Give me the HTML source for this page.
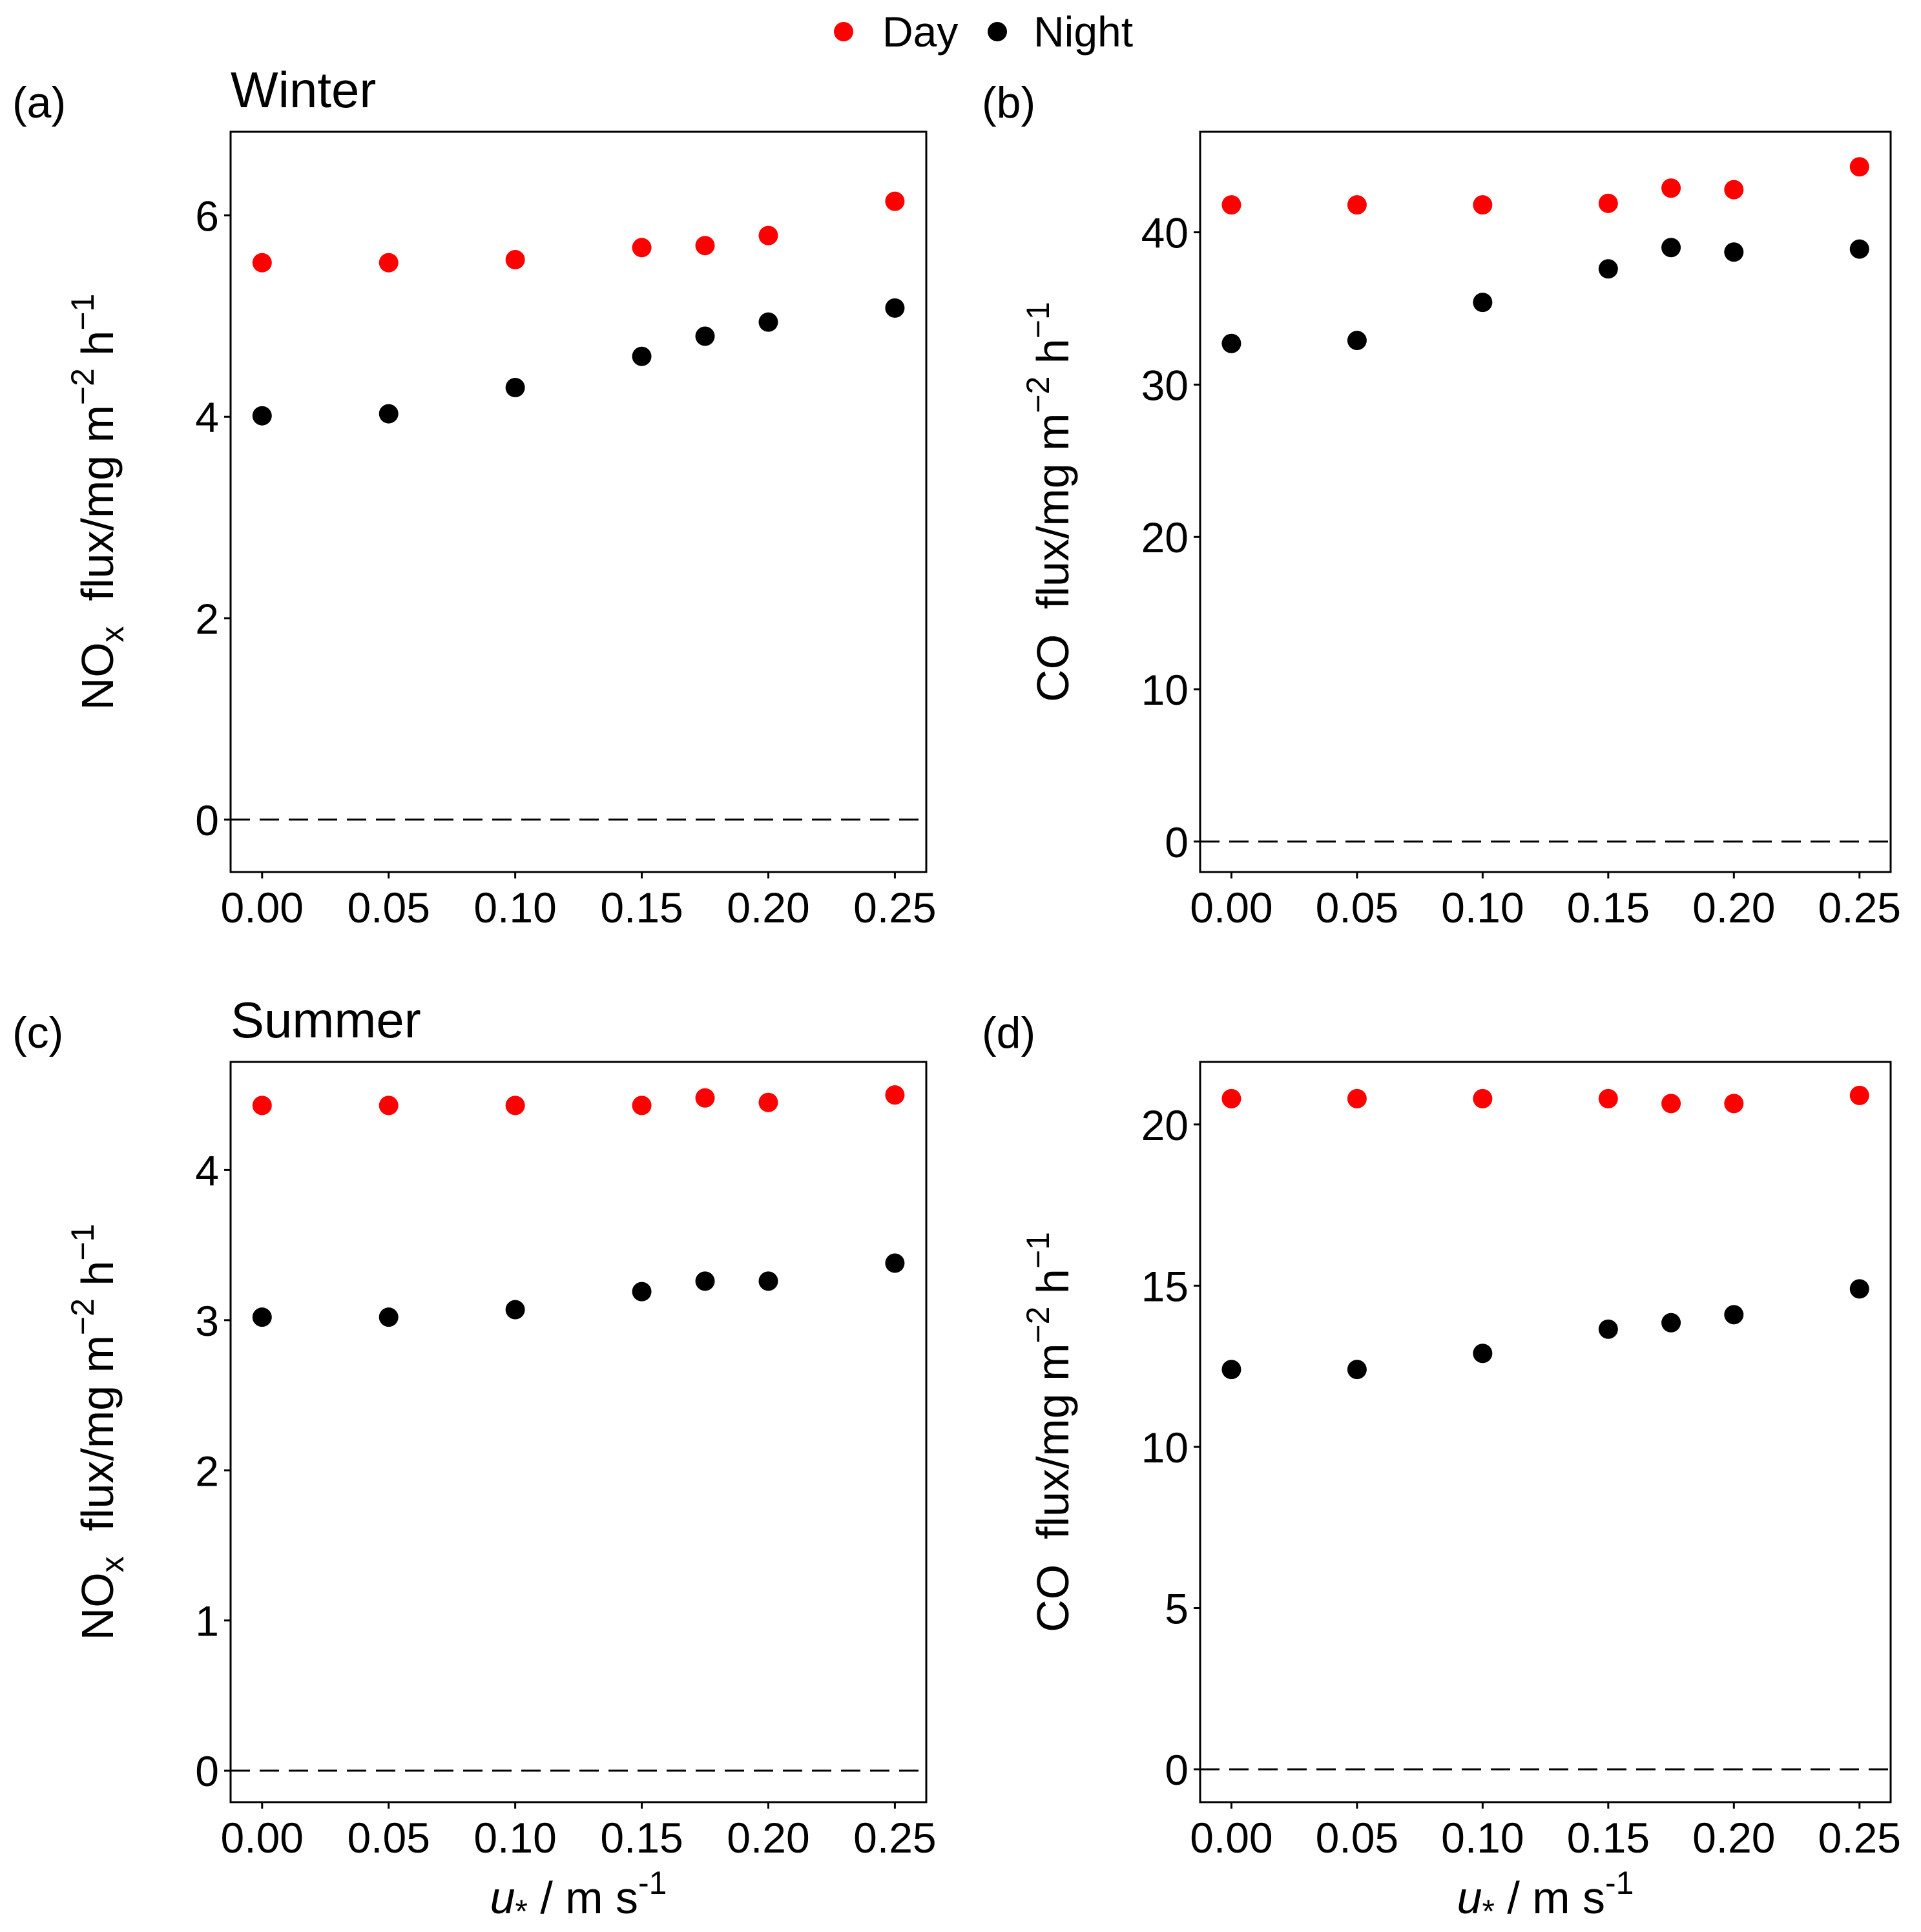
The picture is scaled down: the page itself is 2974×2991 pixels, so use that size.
<!DOCTYPE html>
<html><head><meta charset="utf-8">
<style>
html,body{margin:0;padding:0;background:#fff;}
svg{display:block;font-family:"Liberation Sans",Arial,sans-serif;}
</style></head>
<body>
<svg id="fig" width="2974" height="2991" viewBox="0 0 2974 2991" xmlns="http://www.w3.org/2000/svg">
  <g>
    <circle cx="1306" cy="49" r="15" fill="#ff0000"/>
    <text x="1366" y="72" font-size="66">Day</text>
    <circle cx="1544" cy="49" r="15" fill="#000"/>
    <text x="1600" y="72" font-size="66">Night</text>
  </g>
</svg>
<script>
const xValues = [0, 0.05, 0.10, 0.15, 0.175, 0.20, 0.25];
const xTickValues = [0, 0.05, 0.10, 0.15, 0.20, 0.25];
const xTickLabels = ["0.00","0.05","0.10","0.15","0.20","0.25"];

const dayA = [5.53, 5.53, 5.56, 5.68, 5.70, 5.80, 6.14];
const nightA = [4.01, 4.03, 4.29, 4.60, 4.80, 4.94, 5.08];
const ticksA = [0, 2, 4, 6];

const dayB = [41.8, 41.8, 41.8, 41.9, 42.9, 42.8, 44.3];
const nightB = [32.7, 32.9, 35.4, 37.6, 39.0, 38.7, 38.9];
const ticksB = [0, 10, 20, 30, 40];

const dayC = [4.43, 4.43, 4.43, 4.43, 4.48, 4.45, 4.50];
const nightC = [3.02, 3.02, 3.07, 3.19, 3.26, 3.26, 3.38];
const ticksC = [0, 1, 2, 3, 4];

const dayD = [20.8, 20.8, 20.8, 20.8, 20.65, 20.65, 20.9];
const nightD = [12.4, 12.4, 12.9, 13.65, 13.85, 14.1, 14.9];
const ticksD = [0, 5, 10, 15, 20];

const NS = "http://www.w3.org/2000/svg";
const svg = document.getElementById("fig");
function mk(tag, attrs, parent) {
  const e = document.createElementNS(NS, tag);
  for (const k in attrs) e.setAttribute(k, attrs[k]);
  parent.appendChild(e);
  return e;
}

const panels = [
  {id:"a", tag:"(a)", title:"Winter", left:357, right:1434, top:204, bottom:1350, ymin:-0.52, ymax:6.83, ticks:ticksA, day:dayA, night:nightA, species:"NO", sub:true, xlabel:false, yoff:182},
  {id:"b", tag:"(b)", title:"", left:1858, right:2927, top:204, bottom:1350, ymin:-2.0, ymax:46.6, ticks:ticksB, day:dayB, night:nightB, species:"CO", sub:false, xlabel:false, yoff:204},
  {id:"c", tag:"(c)", title:"Summer", left:357, right:1434, top:1644, bottom:2790, ymin:-0.21, ymax:4.72, ticks:ticksC, day:dayC, night:nightC, species:"NO", sub:true, xlabel:true, yoff:182},
  {id:"d", tag:"(d)", title:"", left:1858, right:2927, top:1644, bottom:2790, ymin:-1.02, ymax:21.94, ticks:ticksD, day:dayD, night:nightD, species:"CO", sub:false, xlabel:true, yoff:204}
];

panels.forEach(p => {
  const g = mk("g", {}, svg);
  
  
  const xmin = -0.01245, xmax = 0.2624;
  const xs = v => p.left + (v - xmin) / (xmax - xmin) * (p.right - p.left);
  const ys = v => p.bottom - (v - p.ymin) / (p.ymax - p.ymin) * (p.bottom - p.top);

  const t = mk("text", {x: p.left - 338, y: p.top - 22, "font-size": 68}, g);
  t.textContent = p.tag;
  
  
  if (p.title) {
    const tt = mk("text", {x: p.left, y: p.top - 38, "font-size": 78}, g);
    tt.textContent = p.title;
    
    
  }

  const z = mk("line", {x1: p.left, x2: p.right, y1: ys(0), y2: ys(0), stroke:"#000", "stroke-width":3, "stroke-dasharray":"30 15"}, g);
  
  

  const fr = mk("rect", {x: p.left, y: p.top, width: p.right - p.left, height: p.bottom - p.top, fill:"none", stroke:"#000", "stroke-width":3}, g);
  
  

  p.ticks.forEach(v => {
    const y = ys(v);
    const l = mk("line", {x1: p.left - 10, x2: p.left, y1: y, y2: y, stroke:"#000", "stroke-width":3}, g);
    
    
    const tx = mk("text", {x: p.left - 18, y: y + 24, "font-size": 66, "text-anchor":"end"}, g);
    tx.textContent = String(v);
    
    
  });
  xTickValues.forEach((v, i) => {
    const x = xs(v);
    const l = mk("line", {x1: x, x2: x, y1: p.bottom, y2: p.bottom + 10, stroke:"#000", "stroke-width":3}, g);
    
    
    const tx = mk("text", {x: x, y: p.bottom + 78, "font-size": 66, "text-anchor":"middle"}, g);
    tx.textContent = xTickLabels[i];
    
    
  });

  const cy = (p.top + p.bottom) / 2;
  const yt = mk("text", {transform: "translate(" + (p.left - p.yoff) + "," + cy + ") rotate(-90)", "font-size": 70, "text-anchor":"middle"}, g);
  
  
  let html = p.species;
  if (p.sub) html += '<tspan dy="16" font-size="50">x</tspan><tspan dy="-16" xml:space="preserve">  flux/mg m</tspan>';
  else html += '<tspan xml:space="preserve">  flux/mg m</tspan>';
  html += '<tspan dy="-30" font-size="50">−2</tspan><tspan dy="30"> h</tspan><tspan dy="-30" font-size="50">−1</tspan>';
  yt.innerHTML = html;

  if (p.xlabel) {
    const xt = mk("text", {x: (p.left + p.right) / 2, y: 2962, "font-size": 70, "text-anchor":"middle"}, g);
    
    
    xt.innerHTML = '<tspan font-style="italic">u</tspan><tspan dy="14" font-size="50">*</tspan><tspan dy="-14"> / m s</tspan><tspan dy="-30" font-size="50">-1</tspan>';
  }

  xValues.forEach((xv, i) => {
    const c1 = mk("circle", {cx: xs(xv), cy: ys(p.day[i]), r: 15, fill: "#ff0000"}, g);
    
    
    const c2 = mk("circle", {cx: xs(xv), cy: ys(p.night[i]), r: 15, fill: "#000"}, g);
    
    
  });
});
</script>
</body></html>
